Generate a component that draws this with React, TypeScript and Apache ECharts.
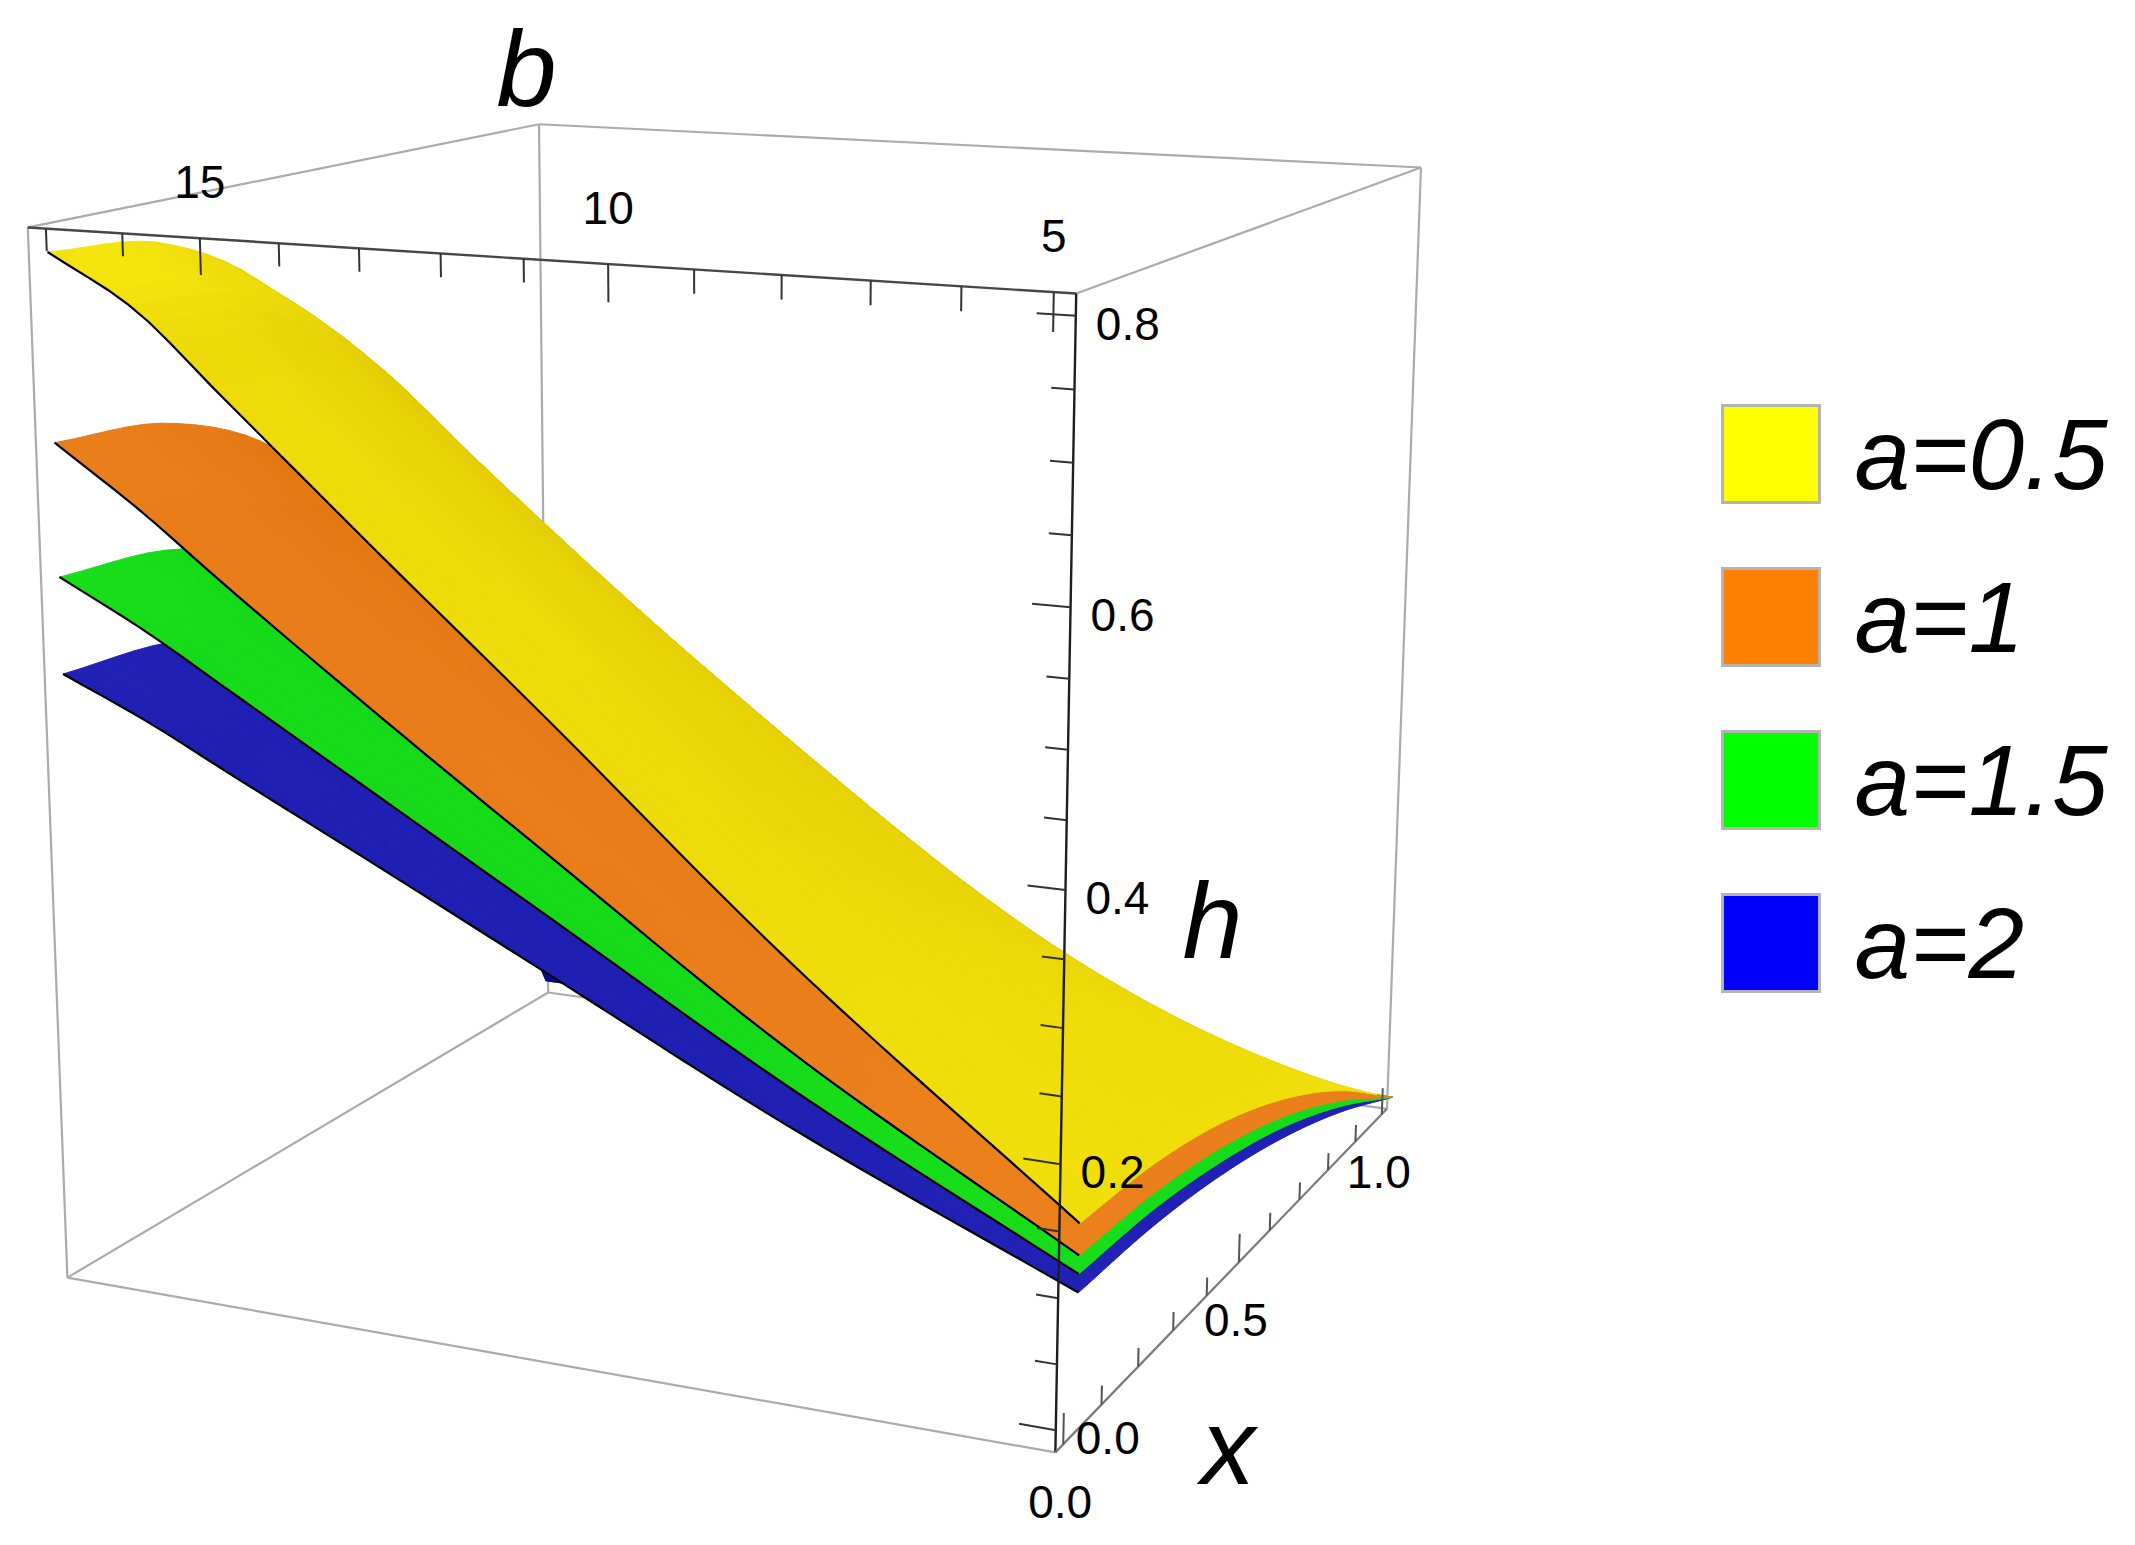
import React, { useEffect, useRef } from "react";
import * as echarts from "echarts";

const CHART_W = 2135;
const CHART_H = 1545;

// ---------------- data ----------------
const LEGEND_NAMES = ["a=0.5", "a=1", "a=1.5", "a=2"];
const LEGEND_COLORS = ["#FFFF00", "#FF8000", "#00FF00", "#0000FF"];

const X_SAMPLES = [0, 0.2, 0.4, 0.6, 0.8, 1.0];
// b positions of the sampled columns (the surfaces reach slightly past 5 and 17 in the picture)
const B_SAMPLES = [4.62, 8, 11, 13, 15, 16, 17.15];

// h(x, b): rows follow X_SAMPLES, columns follow B_SAMPLES
const H_A05 = [
  [0.152, 0.317, 0.482, 0.59, 0.7, 0.755, 0.795],
  [0.145, 0.305, 0.468, 0.575, 0.686, 0.742, 0.783],
  [0.127, 0.271, 0.422, 0.524, 0.631, 0.686, 0.727],
  [0.097, 0.213, 0.339, 0.427, 0.521, 0.57, 0.608],
  [0.055, 0.122, 0.199, 0.254, 0.313, 0.344, 0.37],
  [0, 0, 0, 0, 0, 0, 0],
];
const H_A1 = [
  [0.128, 0.25, 0.378, 0.465, 0.555, 0.602, 0.65],
  [0.122, 0.241, 0.367, 0.453, 0.544, 0.591, 0.64],
  [0.107, 0.214, 0.331, 0.413, 0.501, 0.547, 0.595],
  [0.082, 0.168, 0.266, 0.336, 0.413, 0.454, 0.497],
  [0.046, 0.097, 0.156, 0.2, 0.248, 0.275, 0.302],
  [0, 0, 0, 0, 0, 0, 0],
];
const H_A15 = [
  [0.114, 0.222, 0.33, 0.402, 0.474, 0.51, 0.546],
  [0.109, 0.214, 0.32, 0.392, 0.465, 0.501, 0.538],
  [0.095, 0.19, 0.289, 0.357, 0.428, 0.463, 0.5],
  [0.073, 0.149, 0.232, 0.291, 0.353, 0.385, 0.418],
  [0.041, 0.086, 0.136, 0.173, 0.212, 0.233, 0.254],
  [0, 0, 0, 0, 0, 0, 0],
];
const H_A2 = [
  [0.1, 0.192, 0.285, 0.347, 0.408, 0.439, 0.47],
  [0.096, 0.185, 0.276, 0.338, 0.4, 0.431, 0.463],
  [0.084, 0.164, 0.249, 0.308, 0.368, 0.399, 0.43],
  [0.064, 0.129, 0.2, 0.251, 0.304, 0.331, 0.36],
  [0.036, 0.074, 0.118, 0.149, 0.183, 0.2, 0.219],
  [0, 0, 0, 0, 0, 0, 0],
];

// axis ranges of the plot box
const X_RANGE = [-0.02, 1.02];
const B_RANGE = [4.76, 17.24];
const H_RANGE = [-0.017, 0.815];

// ticks
const B_TICKS = [5, 6, 7, 8, 9, 10, 11, 12, 13, 14, 15, 16, 17];
const B_LABELS = [5, 10, 15];
const H_TICKS = [0, 0.05, 0.1, 0.15, 0.2, 0.25, 0.3, 0.35, 0.4, 0.45, 0.5, 0.55, 0.6, 0.65, 0.7, 0.75, 0.8];
const H_LABELS = [0, 0.2, 0.4, 0.6, 0.8];
const X_TICKS = [0, 0.1, 0.2, 0.3, 0.4, 0.5, 0.6, 0.7, 0.8, 0.9, 1.0];
const X_LABELS = [0, 0.5, 1.0];

// ---------------- layout / style ----------------
// camera: screen position of the eight corners of the box  [X, Y, Z, px, py]
// X: 0 = x min (front), Y: 0 = b min (right), Z: 0 = h min
const BOX_CORNERS: number[][] = [
  [0, 1, 1, 27, 230],
  [0, 0, 1, 1077, 293],
  [0, 0, 0, 1057, 1452],
  [0, 1, 0, 66, 1276],
  [1, 1, 1, 540, 123],
  [1, 0, 1, 1420, 167],
  [1, 0, 0, 1386, 1110],
  [1, 1, 0, 549, 993],
];

const SHADES = [
  { light: [250, 236, 16], dark: [220, 194, 0] },
  { light: [242, 134, 36], dark: [212, 104, 0] },
  { light: [28, 228, 28], dark: [0, 184, 16] },
  { light: [36, 36, 186], dark: [6, 6, 146] },
];
const LIGHT = (() => {
  const v = [-0.5, 0.1, 1.0];
  const n = Math.hypot(v[0], v[1], v[2]);
  return v.map((c) => c / n);
})();

const FONT = "'Liberation Sans', Arial, Helvetica, sans-serif";

// ---------------- projection (fitted perspective) ----------------
function fitProjection(): number[] {
  const rows: number[][] = [];
  const rhs: number[] = [];
  for (const c of BOX_CORNERS) {
    const [X, Y, Z, su, sv] = c;
    const u = su / 1000;
    const v = sv / 1000;
    rows.push([X, Y, Z, 1, 0, 0, 0, 0, -u * X, -u * Y, -u * Z]);
    rhs.push(u);
    rows.push([0, 0, 0, 0, X, Y, Z, 1, -v * X, -v * Y, -v * Z]);
    rhs.push(v);
  }
  const n = 11;
  const M: number[][] = [];
  for (let i = 0; i < n; i++) M.push(new Array(n + 1).fill(0));
  for (let r = 0; r < rows.length; r++) {
    for (let i = 0; i < n; i++) {
      for (let j = 0; j < n; j++) M[i][j] += rows[r][i] * rows[r][j];
      M[i][n] += rows[r][i] * rhs[r];
    }
  }
  for (let col = 0; col < n; col++) {
    let piv = col;
    for (let r = col + 1; r < n; r++) if (Math.abs(M[r][col]) > Math.abs(M[piv][col])) piv = r;
    const tmp = M[col];
    M[col] = M[piv];
    M[piv] = tmp;
    for (let r = 0; r < n; r++) {
      if (r === col) continue;
      const f = M[r][col] / M[col][col];
      for (let k = col; k <= n; k++) M[r][k] -= f * M[col][k];
    }
  }
  return M.map((row, i) => row[n] / row[i]);
}
const PROJ = fitProjection();

function norm3(x: number, b: number, h: number) {
  return [
    (x - X_RANGE[0]) / (X_RANGE[1] - X_RANGE[0]),
    (b - B_RANGE[0]) / (B_RANGE[1] - B_RANGE[0]),
    (h - H_RANGE[0]) / (H_RANGE[1] - H_RANGE[0]),
  ];
}
function project(x: number, b: number, h: number) {
  const [X, Y, Z] = norm3(x, b, h);
  const p = PROJ;
  const w = p[8] * X + p[9] * Y + p[10] * Z + 1;
  return [
    (1000 * (p[0] * X + p[1] * Y + p[2] * Z + p[3])) / w,
    (1000 * (p[4] * X + p[5] * Y + p[6] * Z + p[7])) / w,
    w,
  ];
}

// ---------------- smooth surface table ----------------
function tangents(ts: number[], ys: number[]) {
  const n = ts.length;
  const m: number[] = [];
  for (let k = 0; k < n; k++) {
    if (k === 0) m.push((ys[1] - ys[0]) / (ts[1] - ts[0]));
    else if (k === n - 1) m.push((ys[n - 1] - ys[n - 2]) / (ts[n - 1] - ts[n - 2]));
    else
      m.push(
        0.5 * ((ys[k + 1] - ys[k]) / (ts[k + 1] - ts[k]) + (ys[k] - ys[k - 1]) / (ts[k] - ts[k - 1]))
      );
  }
  return m;
}
function herm(ts: number[], ys: number[], ms: number[], t: number) {
  let k = 0;
  while (k < ts.length - 2 && t > ts[k + 1]) k++;
  const hh = ts[k + 1] - ts[k];
  const s = (t - ts[k]) / hh;
  const s2 = s * s;
  const s3 = s2 * s;
  return (
    (2 * s3 - 3 * s2 + 1) * ys[k] +
    (s3 - 2 * s2 + s) * hh * ms[k] +
    (-2 * s3 + 3 * s2) * ys[k + 1] +
    (s3 - s2) * hh * ms[k + 1]
  );
}
const NX = 32;
const NB = 48;
function buildSurface(grid: number[][]) {
  const b0 = B_SAMPLES[0];
  const b1 = B_SAMPLES[B_SAMPLES.length - 1];
  const x0 = X_SAMPLES[0];
  const x1 = X_SAMPLES[X_SAMPLES.length - 1];
  const bFine: number[] = [];
  for (let j = 0; j <= NB; j++) bFine.push(b0 + ((b1 - b0) * j) / NB);
  const xFine: number[] = [];
  for (let i = 0; i <= NX; i++) xFine.push(x0 + ((x1 - x0) * i) / NX);
  const rowsAtB = grid.map((row) => {
    const m = tangents(B_SAMPLES, row);
    return bFine.map((b) => herm(B_SAMPLES, row, m, b));
  });
  const vals: number[][] = xFine.map(() => new Array(NB + 1).fill(0));
  for (let j = 0; j <= NB; j++) {
    const col = rowsAtB.map((r) => r[j]);
    const m = tangents(X_SAMPLES, col);
    for (let i = 0; i <= NX; i++) vals[i][j] = Math.max(0, herm(X_SAMPLES, col, m, xFine[i]));
  }
  const proj = vals.map((row, i) => row.map((h, j) => project(xFine[i], bFine[j], h)));
  const nrm = vals.map((row, i) => row.map((h, j) => norm3(xFine[i], bFine[j], h)));
  return { xFine, bFine, vals, proj, nrm };
}
const GRIDS = [H_A05, H_A1, H_A15, H_A2];
const SURFACES = GRIDS.map(buildSurface);

// global back-to-front order of every patch of every surface (painter's algorithm);
// patches seen from below are painted first, upper surfaces first
const RANKS: number[][] = (() => {
  const all: { k: number; q: number; d: number }[] = [];
  SURFACES.forEach((S, k) => {
    for (let i = 0; i < NX; i++)
      for (let j = 0; j < NB; j++) {
        const p00 = S.proj[i][j], p10 = S.proj[i + 1][j], p01 = S.proj[i][j + 1], p11 = S.proj[i + 1][j + 1];
        let d = (p00[2] + p10[2] + p01[2] + p11[2]) / 4;
        const ax = p10[0] - p00[0] + p11[0] - p01[0];
        const ay = p10[1] - p00[1] + p11[1] - p01[1];
        const bx = p01[0] - p00[0] + p11[0] - p10[0];
        const by = p01[1] - p00[1] + p11[1] - p10[1];
        const cross = ax * by - ay * bx;
        if (cross > 0) d += 10 + (SURFACES.length - 1 - k);
        all.push({ k, q: i * NB + j, d });
      }
  });
  all.sort((a, b) => b.d - a.d);
  const r: number[][] = SURFACES.map(() => new Array(NX * NB).fill(0));
  all.forEach((e, idx) => {
    r[e.k][e.q] = idx + 1;
  });
  return r;
})();

function rgb(c: number[]) {
  return `rgb(${Math.round(c[0])},${Math.round(c[1])},${Math.round(c[2])})`;
}

function surfaceRenderer(k: number) {
  return (params: any, api: any) => {
    if (params.dataIndex !== 0) return null;
    const S = SURFACES[k];
    const shade = SHADES[k];
    const px = S.proj.map((row) => row.map((p) => api.coord([p[0], p[1]])));
    const children: any[] = [];
    for (let i = 0; i < NX; i++) {
      for (let j = 0; j < NB; j++) {
        const a = S.nrm[i][j];
        const bq = S.nrm[i + 1][j];
        const c = S.nrm[i][j + 1];
        const d = S.nrm[i + 1][j + 1];
        const e1 = [bq[0] - a[0] + d[0] - c[0], 0, bq[2] - a[2] + d[2] - c[2]];
        const e2 = [0, c[1] - a[1] + d[1] - bq[1], c[2] - a[2] + d[2] - bq[2]];
        const n = [-e1[2] * e2[1], -e1[0] * e2[2], e1[0] * e2[1]];
        const nl = Math.hypot(n[0], n[1], n[2]) || 1;
        const dot = (n[0] * LIGHT[0] + n[1] * LIGHT[1] + n[2] * LIGHT[2]) / nl;
        const t = Math.min(1, Math.max(0, (dot - 0.25) / 0.6));
        const col = rgb([0, 1, 2].map((q) => shade.dark[q] + (shade.light[q] - shade.dark[q]) * t));
        children.push({
          type: "polygon",
          z2: RANKS[k][i * NB + j],
          shape: { points: [px[i][j], px[i + 1][j], px[i + 1][j + 1], px[i][j + 1]] },
          style: { fill: col, stroke: col, lineWidth: 1 },
          silent: true,
        });
      }
    }
    children.push({
      type: "polyline",
      z2: 100000,
      shape: { points: px[0] },
      style: { stroke: "#000", lineWidth: 2.2, fill: null },
      silent: true,
    });
    return { type: "group", children };
  };
}

function corner(X: number, Y: number, Z: number) {
  return project(X_RANGE[X], B_RANGE[Y], H_RANGE[Z]);
}

function lineEl(api: any, p: number[], q: number[], stroke: string, lw: number) {
  const a = api.coord([p[0], p[1]]);
  const b = api.coord([q[0], q[1]]);
  return { type: "line", shape: { x1: a[0], y1: a[1], x2: b[0], y2: b[1] }, style: { stroke, lineWidth: lw }, silent: true };
}
function textEl(api: any, p: number[], dx: number, dy: number, text: string, size: number, align: string, italic: boolean) {
  const a = api.coord([p[0], p[1]]);
  return {
    type: "text",
    style: {
      text,
      x: a[0] + dx,
      y: a[1] + dy,
      fill: "#000",
      fontSize: size,
      fontFamily: FONT,
      fontStyle: italic ? "italic" : "normal",
      align,
      verticalAlign: "middle",
    },
    silent: true,
  };
}

const BACK_COLOR = "#ababab";

function backBoxRenderer(params: any, api: any) {
  if (params.dataIndex !== 0) return null;
  const A = corner(0, 1, 1), B = corner(0, 0, 1), C = corner(0, 0, 0), D = corner(0, 1, 0);
  const E = corner(1, 1, 1), F = corner(1, 0, 1), G = corner(1, 0, 0), Hh = corner(1, 1, 0);
  const edges = [
    [E, F], [F, G], [G, Hh], [Hh, E], [A, E], [B, F], [D, Hh], [A, D], [D, C],
  ];
  return { type: "group", children: edges.map((e) => lineEl(api, e[0], e[1], BACK_COLOR, 2.2)) };
}

function frontAxesRenderer(params: any, api: any) {
  if (params.dataIndex !== 0) return null;
  const A = corner(0, 1, 1), B = corner(0, 0, 1), C = corner(0, 0, 0), G = corner(1, 0, 0);
  const ch: any[] = [];
  ch.push(lineEl(api, A, B, "#474747", 2.4));
  ch.push(lineEl(api, B, C, "#1e1e1e", 2.4));
  ch.push(lineEl(api, C, G, "#7a7a7a", 2.2));
  const xm = X_RANGE[0], bm = B_RANGE[0], hmax = H_RANGE[1], hmin = H_RANGE[0];
  for (const b of B_TICKS) {
    const major = B_LABELS.indexOf(b) >= 0;
    const len = major ? 0.027 : 0.017;
    ch.push(lineEl(api, project(xm, b, hmax), project(xm, b, hmax - len), "#333", 2));
  }
  for (const b of B_LABELS) ch.push(textEl(api, project(xm, b, hmax), 0, -56, String(b), 46, "center", false));
  for (const h of H_TICKS) {
    const major = H_LABELS.some((v) => Math.abs(v - h) < 1e-9);
    const len = major ? 0.42 : 0.25;
    ch.push(lineEl(api, project(xm, bm, h), project(xm, bm + len, h), "#333", 2));
  }
  for (const h of H_LABELS) ch.push(textEl(api, project(xm, bm, h), 20, 8, h.toFixed(1), 46, "left", false));
  for (const x of X_TICKS) {
    const major = X_LABELS.some((v) => Math.abs(v - x) < 1e-9);
    const len = major ? 0.024 : 0.015;
    ch.push(lineEl(api, project(x, bm, hmin), project(x, bm, hmin + len), "#555", 2));
  }
  for (const x of X_LABELS) ch.push(textEl(api, project(x, bm, hmin), -3, 58, x.toFixed(1), 46, "center", false));
  ch.push(textEl(api, project(xm, 11, hmax), 3, -190, "b", 108, "center", true));
  ch.push(textEl(api, project(xm, bm, 0.4), 147, 30, "h", 108, "center", true));
  ch.push(textEl(api, project(0.5, bm, hmin), -11, 184, "x", 108, "center", true));
  return { type: "group", children: ch };
}

function surfaceData(grid: number[][]) {
  const out: number[][] = [];
  grid.forEach((row, i) => row.forEach((h, j) => out.push([X_SAMPLES[i], B_SAMPLES[j], h])));
  return out;
}

export default function App() {
  const ref = useRef<HTMLDivElement>(null);
  useEffect(() => {
    if (!ref.current) return;
    const chart = echarts.init(ref.current, undefined, { renderer: "svg" });
    const surfaceSeries = GRIDS.map((g, k) => ({
      type: "custom",
      name: LEGEND_NAMES[k],
      coordinateSystem: "cartesian2d",
      data: surfaceData(g),
      renderItem: surfaceRenderer(k),
      itemStyle: { color: LEGEND_COLORS[k] },
      z: 3,
      silent: true,
      clip: false,
    }));
    chart.setOption({
      animation: false,
      backgroundColor: "#ffffff",
      grid: { left: 0, right: 0, top: 0, bottom: 0, containLabel: false },
      xAxis: { type: "value", min: 0, max: CHART_W, show: false },
      yAxis: { type: "value", min: 0, max: CHART_H, inverse: true, show: false },
      legend: {
        orient: "vertical",
        left: 1716,
        top: 399,
        icon: "rect",
        itemWidth: 97,
        itemHeight: 97,
        itemGap: 63,
        selectedMode: false,
        itemStyle: { borderColor: "#b4b4b4", borderWidth: 3 },
        textStyle: {
          fontSize: 100,
          fontStyle: "italic",
          fontFamily: FONT,
          color: "#000",
          lineHeight: 97,
          padding: [0, 0, 0, 30],
        },
        data: LEGEND_NAMES,
      },
      series: [
        {
          type: "custom",
          name: "box",
          coordinateSystem: "cartesian2d",
          data: [[0, 0]],
          renderItem: backBoxRenderer,
          z: 1,
          silent: true,
          clip: false,
        },
        ...surfaceSeries,
        {
          type: "custom",
          name: "axes",
          coordinateSystem: "cartesian2d",
          data: [[0, 0]],
          renderItem: frontAxesRenderer,
          z: 10,
          silent: true,
          clip: false,
        },
      ],
    });
    return () => chart.dispose();
  }, []);
  return (
    <div
      ref={ref}
      style={{ position: "absolute", left: 0, top: 0, width: CHART_W, height: CHART_H, background: "#fff" }}
    />
  );
}
